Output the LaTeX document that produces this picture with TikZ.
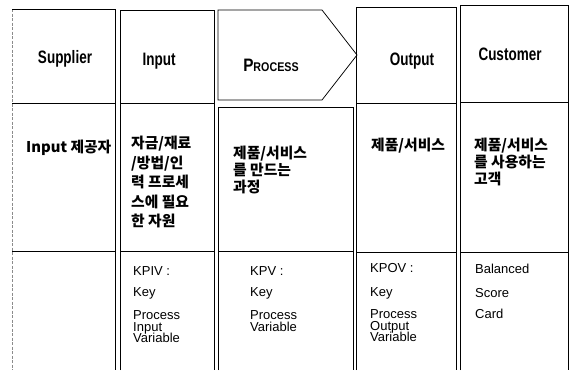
\documentclass[tikz,border=0pt]{standalone}
\usepackage{fontspec}
\setmainfont{Liberation Sans}
\newfontfamily\hdfont{Liberation Sans}[FakeStretch=0.75]
\newfontfamily\pcfont{Liberation Sans}[FakeStretch=0.85]
\newfontfamily\krfont{Noto Sans CJK KR}
\lineskiplimit=-100pt
\begin{document}
\begin{tikzpicture}[x=1pt,y=-1pt,
  ln/.style={line width=0.75pt, black},
  faint/.style={line width=0.6pt, black!45, dash pattern=on 3pt off 1.5pt},
  hd/.style={font=\hdfont\bfseries\fontsize{18}{18}\selectfont, anchor=base, inner sep=0pt},
  kt/.style={font=\krfont\bfseries\fontsize{14.8}{19.5}\selectfont, anchor=north west, align=left, inner sep=0pt},
  bt/.style={font=\fontsize{13}{11.5}\selectfont, anchor=north west, align=left, inner sep=0pt}]
\useasboundingbox (0,0) rectangle (569,370);

% Supplier column
\draw[faint] (12,9) -- (12,370);
\draw[ln] (12,9) -- (115,9) -- (115,370);
\draw[ln] (12,103) -- (115,103);
\draw[ln] (12,251) -- (115,251);
% Input column
\draw[ln] (120,370) -- (120,10) -- (214,10) -- (214,370);
\draw[ln] (120,103) -- (214,103);
\draw[ln] (120,251) -- (214,251);
% Process column
\draw[ln] (218,100) -- (218,10) -- (322,10) -- (357,55) -- (322,100) -- cycle;
\draw[ln] (218,370) -- (218,107) -- (353,107) -- (353,370);
\draw[ln] (218,251) -- (353,251);
% Output column
\draw[ln] (356,370) -- (356,7) -- (456,7) -- (456,370);
\draw[ln] (356,103) -- (456,103);
\draw[ln] (356,252) -- (456,252);
% Customer column
\draw[ln] (460,370) -- (460,5) -- (568,5) -- (568,370);
\draw[ln] (460,102) -- (568,102);
\draw[ln] (460,252) -- (568,252);

% headers
\node[hd] (hsup) at (65,63) {Supplier};
\node[hd] (hin) at (159,65) {Input};
\node[hd, font=\pcfont\bfseries] (hpro) at (271,71) {{\fontsize{18}{18}\selectfont P}{\fontsize{12.6}{18}\selectfont ROCESS}};
\node[hd] (hout) at (412,65) {Output};
\node[hd] (hcus) at (510,60) {Customer};

% middle row
\node[kt] (msup) at (26,140) {Input 제공자};
\node[kt] (min) at (131,136) {자금/재료\\/방법/인\\력 프로세\\스에 필요\\한 자원};
\node[kt, font=\krfont\bfseries\fontsize{14.8}{17}\selectfont] (mpro) at (233,146) {제품/서비스\\를 만드는\\과정};
\node[kt] (mout) at (371,138) {제품/서비스};
\node[kt, font=\krfont\bfseries\fontsize{14.8}{17}\selectfont] (mcus) at (474,138) {제품/서비스\\를 사용하는\\고객};

% bottom row
\node[bt] (bin) at (133,266.6) {KPIV :\\[9.5pt]Key\\[11.5pt]Process\\Input\\Variable};
\node[bt] (bpro) at (250,266.6) {KPV :\\[9.5pt]Key\\[11.5pt]Process\\Variable};
\node[bt] (bout) at (370,263.6) {KPOV :\\[12.5pt]Key\\[10.5pt]Process\\Output\\Variable};
\node[bt] (bcus) at (475,263.6) {Balanced\\[12.5pt]Score\\[9.5pt]Card};
\end{tikzpicture}
\end{document}
